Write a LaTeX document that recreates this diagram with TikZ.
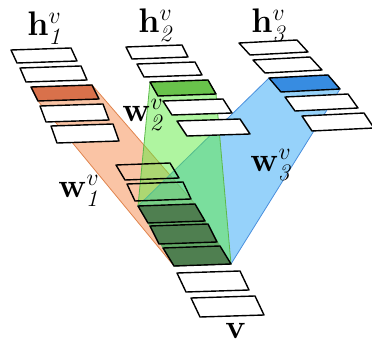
\documentclass[tikz,border=0pt]{standalone}
\usepackage{amsmath}
\usetikzlibrary{backgrounds}
\DeclareMathSizes{24.88}{24.88}{17.28}{12}
\definecolor{cOrange}{HTML}{D9714B}
\definecolor{cGreen}{HTML}{69C34B}
\definecolor{cBlue}{HTML}{378CE1}
\definecolor{cDark}{HTML}{4F7F50}
\definecolor{rOrange}{HTML}{F5894B}
\definecolor{rGreen}{HTML}{5FEB41}
\definecolor{rBlue}{HTML}{2DA5F5}
\definecolor{rBlock}{HTML}{62A865}
\definecolor{eOrange}{HTML}{E0844E}
\definecolor{eGreen}{HTML}{5DB84A}
\definecolor{eBlue}{HTML}{4A8FDD}
\tikzset{
  cell/.style={draw=black, line width=1.4pt, line join=round},
  hull/.style={fill opacity=0.5, line width=0.8pt},
  lab/.style={font=\Huge, scale=1.37, inner sep=0pt, anchor=base west}
}

\begin{document}
\begin{tikzpicture}[x=1pt, y=-1pt]
  \useasboundingbox (0,0) rectangle (372,339);
  % input stacks h1, h2, h3
  \foreach \n/\x/\y/\w/\a/\b/\f in {
    a1/11/50/60/6/13/white, a2/20/68/61/6/14/white, a3/31/87/61/7/14/cOrange,
    a4/40/106/63/6/16/white, a5/51/126/62/6/17/white}{
    \draw[cell, fill=\f] (\x,\y) coordinate (\n-tl) -- ++(\w,-2) coordinate (\n-tr)
      -- ++(\a,\b) coordinate (\n-br) -- ++(-\w,2) coordinate (\n-bl) -- cycle;
  }
  \foreach \n/\x/\y/\w/\a/\b/\f in {
    b1/126/47/56/6/12/white, b2/137/64/58/7/13/white, b3/150/82/58/8/14/cGreen,
    b4/163/101/60/9/14/white, b5/177/121/63/10/15/white}{
    \draw[cell, fill=\f] (\x,\y) coordinate (\n-tl) -- ++(\w,-2) coordinate (\n-tr)
      -- ++(\a,\b) coordinate (\n-br) -- ++(-\w,2) coordinate (\n-bl) -- cycle;
  }
  \foreach \n/\x/\y/\w/\a/\b/\f in {
    c1/239/43/58/11/12/white, c2/253/60/57/12/13/white, c3/269/78/59/12/14/cBlue,
    c4/285/97/63/10/14/white, c5/302/116/62/10/15/white}{
    \draw[cell, fill=\f] (\x,\y) coordinate (\n-tl) -- ++(\w,-3) coordinate (\n-tr)
      -- ++(\a,\b) coordinate (\n-br) -- ++(-\w,3) coordinate (\n-bl) -- cycle;
  }
  % output stack v
  \foreach \n/\x/\y/\w/\a/\b/\f in {
    v1/116/165/54/9/15/none, v2/127/184/56/8/17/none, v3/138/206/57/10/17/cDark,
    v4/150/226/58/9/18/cDark, v5/163/248/57/11/18/cDark,
    v6/177/273/63/9/19/white, v7/191/298/64/9/19/white}{
    \draw[cell, fill=\f] (\x,\y) coordinate (\n-tl) -- ++(\w,-2) coordinate (\n-tr)
      -- ++(\a,\b) coordinate (\n-br) -- ++(-\w,2) coordinate (\n-bl) -- cycle;
  }
  \begin{scope}[on background layer]
    \filldraw[hull, fill=rOrange, draw=eOrange] (a3-tl) -- (a3-tr) -- (v3-tr)
      -- (v5-br) -- (v5-bl) -- (a3-bl) -- cycle;
    \filldraw[hull, fill=rBlue, draw=eBlue] (c3-tl) -- (c3-tr) -- (c3-br)
      -- (v5-br) -- (v5-bl) -- (v3-tl) -- cycle;
    \filldraw[hull, fill=rGreen, draw=eGreen] (b3-tl) -- (b3-tr) -- (b3-br)
      -- (v5-br) -- (v5-bl) -- (v3-tl) -- cycle;
    \fill[rBlock] (v3-tl) -- (v3-tr) -- (v5-br) -- (v5-bl) -- cycle;
  \end{scope}
  % labels
  \node[lab] (lh1) at (27,36) {$\mathbf{h}^{v}_{\mathit{1}}$};
  \node[lab] (lh2) at (138,33) {$\mathbf{h}^{v}_{\mathit{2}}$};
  \node[lab] (lh3) at (251,33) {$\mathbf{h}^{v}_{\mathit{3}}$};
  \node[lab] (lw1) at (58,198) {$\mathbf{w}^{v}_{\mathit{1}}$};
  \node[lab] (lw2) at (122,122) {$\mathbf{w}^{v}_{\mathit{2}}$};
  \node[lab] (lw3) at (250,172) {$\mathbf{w}^{v}_{\mathit{3}}$};
  \node[lab] (lv) at (225,338) {$\mathbf{v}$};
\end{tikzpicture}
\end{document}
